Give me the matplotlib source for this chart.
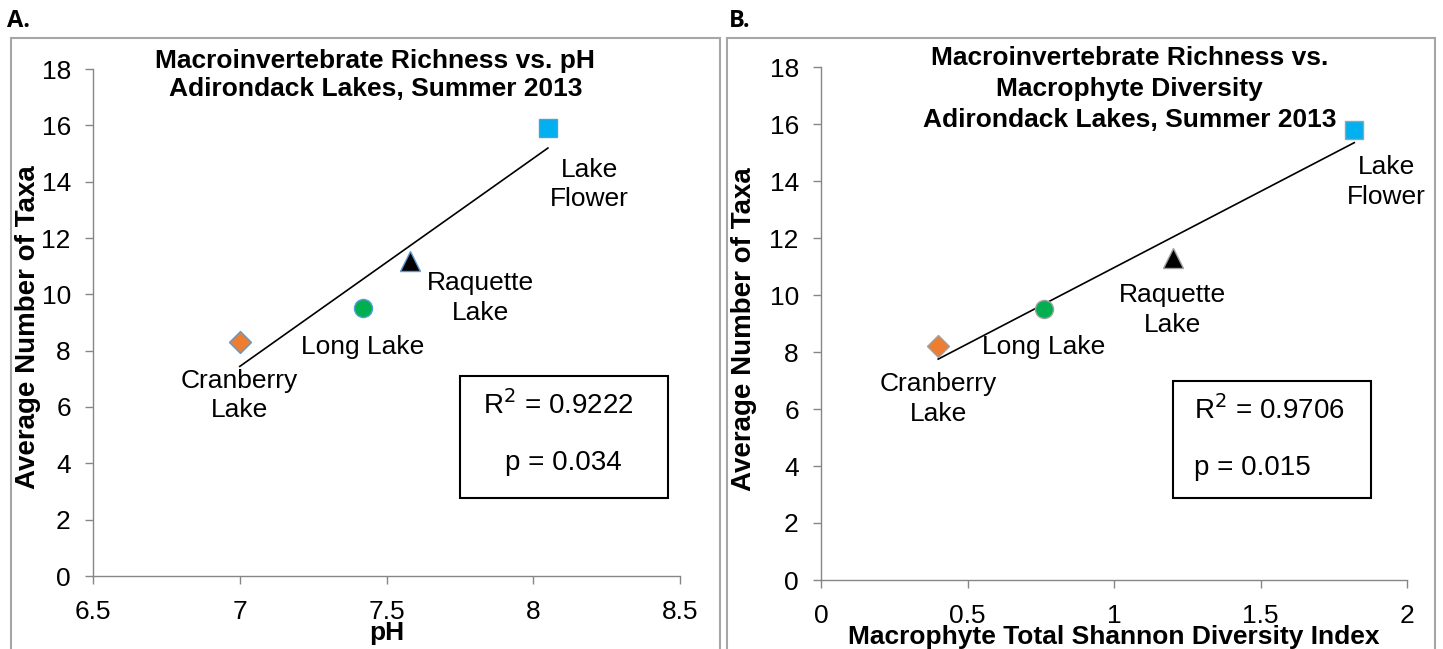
import numpy as np
import matplotlib
matplotlib.use("Agg")
import matplotlib.pyplot as plt
from matplotlib.patches import Rectangle

plt.rcParams['font.family'] = ['Liberation Sans', 'DejaVu Sans']

# ---- data ----
lakes = ["Cranberry\nLake", "Long Lake", "Raquette\nLake", "Lake\nFlower"]
ph = [7.00, 7.42, 7.58, 8.05]
shannon = [0.40, 0.76, 1.20, 1.82]
taxa_a = [8.3, 9.5, 11.2, 15.9]
taxa_b = [8.2, 9.5, 11.3, 15.8]

xticks_a = [6.5, 7, 7.5, 8, 8.5]
xtick_labels_a = ["6.5", "7", "7.5", "8", "8.5"]
xticks_b = [0, 0.5, 1, 1.5, 2]
xtick_labels_b = ["0", "0.5", "1", "1.5", "2"]
yticks = [0, 2, 4, 6, 8, 10, 12, 14, 16, 18]

title_a = "Macroinvertebrate Richness vs. pH\nAdirondack Lakes, Summer 2013"
title_b = "Macroinvertebrate Richness vs.\nMacrophyte Diversity\nAdirondack Lakes, Summer 2013"
stats_a = ("R$^2$ = 0.9222", "p = 0.034")
stats_b = ("R$^2$ = 0.9706", "p = 0.015")

# label positions (data coords) for each panel
lab_a = [(7.0, 6.41), (7.42, 8.14), (7.82, 9.87), (8.19, 13.9)]
lab_b = [(0.40, 6.36), (0.76, 8.19), (1.20, 9.47), (1.93, 13.96)]

colors = ["#ED7D31", "#00B050", "#000000", "#00B0F0"]
markers = ["D", "o", "^", "s"]
msizes = [11, 13, 14, 13]

W, H = 1443, 649
fig = plt.figure(figsize=(W / 100, H / 100), dpi=100)

def fx(px):
    return px / W

def fy(py):
    return 1 - py / H

# panel frames
for x0, x1 in [(11, 720), (727, 1435)]:
    fig.patches.append(Rectangle((fx(x0), fy(660)), fx(x1 - x0), (660 - 38) / H,
                                 transform=fig.transFigure, fill=False,
                                 edgecolor="#A6A6A6", linewidth=1.5))

fig.text(fx(7), fy(21), "A.", family=["Open Sans", "DejaVu Sans"], fontweight="bold",
         fontsize=17, ha="left", va="center")
fig.text(fx(729), fy(21), "B.", family=["Open Sans", "DejaVu Sans"], fontweight="bold",
         fontsize=17, ha="left", va="center")

ax_a = fig.add_axes([fx(93), fy(576), fx(680 - 93), (576 - 69) / H])
ax_b = fig.add_axes([fx(821), fy(580), fx(1407 - 821), (580 - 67) / H])

def style(ax, xlim, xticks, xlabels, xlabel, title, tx, ylab_x, tls):
    ax.set_xlim(*xlim)
    ax.set_ylim(0, 18)
    ax.set_xticks(xticks)
    ax.set_xticklabels(xlabels)
    ax.set_yticks(yticks)
    for s in ["top", "right"]:
        ax.spines[s].set_visible(False)
    for s in ["left", "bottom"]:
        ax.spines[s].set_color("#868686")
        ax.spines[s].set_linewidth(1.0)
    ax.tick_params(axis="both", direction="out", length=6, width=1.0, color="#868686",
                   labelsize=19, labelcolor="black")
    ax.tick_params(axis="y", pad=10)
    ax.tick_params(axis="x", pad=11)
    ax.set_xlabel(xlabel, fontsize=19, fontweight="bold", labelpad=-2)
    ax.set_ylabel("Average Number of Taxa", fontsize=20, fontweight="bold")
    ax.yaxis.set_label_coords(ylab_x, 0.49)
    ax.text(tx, 1.04, title, transform=ax.transAxes, ha="center", va="top",
            fontsize=19, fontweight="bold", linespacing=tls)

style(ax_a, (6.5, 8.5), xticks_a, xtick_labels_a, "pH", title_a, 0.481, -0.088, 1.25)
style(ax_b, (0, 2), xticks_b, xtick_labels_b,
      "Macrophyte Total Shannon Diversity Index", title_b, 0.527, -0.11, 1.36)

def draw(ax, xs, ys, labs, edge):
    for x, y, c, m, ms in zip(xs, ys, colors, markers, msizes):
        ax.plot([x], [y], marker=m, color=c, markersize=ms, markeredgecolor=edge,
                markeredgewidth=1.0, linestyle="none", zorder=3, clip_on=False)
    k, b = np.polyfit(xs, ys, 1)
    xx = np.array([min(xs), max(xs)])
    ax.plot(xx, k * xx + b, color="black", linewidth=1.2, zorder=2)
    for name, (lx, ly) in zip(lakes, labs):
        ax.text(lx, ly, name, ha="center", va="center", fontsize=19,
                linespacing=1.3)

draw(ax_a, ph, taxa_a, lab_a, "#5B9BD5")
draw(ax_b, shannon, taxa_b, lab_b, "#A0A0A0")

# statistics boxes
ax_a.add_patch(Rectangle((0.626, 0.154), 0.354, 0.241, transform=ax_a.transAxes,
                         fill=False, edgecolor="black", linewidth=1.5))
ax_a.text(0.793, 0.337, stats_a[0], transform=ax_a.transAxes, ha="center",
          va="center", fontsize=20)
ax_a.text(0.802, 0.223, stats_a[1], transform=ax_a.transAxes, ha="center",
          va="center", fontsize=20)

ax_b.add_patch(Rectangle((0.600, 0.160), 0.338, 0.227, transform=ax_b.transAxes,
                         fill=False, edgecolor="black", linewidth=1.5))
ax_b.text(0.637, 0.331, stats_b[0], transform=ax_b.transAxes, ha="left",
          va="center", fontsize=20)
ax_b.text(0.637, 0.218, stats_b[1], transform=ax_b.transAxes, ha="left",
          va="center", fontsize=20)

fig.savefig("out.png", dpi=100)
